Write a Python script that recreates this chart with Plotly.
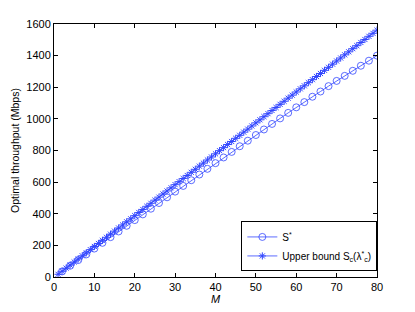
import plotly.graph_objects as go

M_upper = list(range(1, 81))
upper_bound = [17, 36, 56, 75, 95, 114, 134, 153, 173, 193,
               212, 232, 251, 271, 290, 310, 329, 349, 368, 388,
               408, 427, 447, 466, 486, 505, 525, 544, 564, 584,
               603, 623, 642, 662, 681, 701, 720, 740, 759, 779,
               799, 818, 838, 857, 877, 896, 916, 935, 955, 975,
               994, 1014, 1033, 1053, 1072, 1092, 1111, 1131, 1150, 1170,
               1190, 1209, 1229, 1248, 1268, 1287, 1307, 1326, 1346, 1366,
               1385, 1405, 1424, 1444, 1463, 1483, 1502, 1522, 1541, 1561]

M_opt = list(range(2, 81, 2))
s_opt = [35, 71, 107, 143, 180, 216, 252, 288, 324, 360,
         396, 432, 468, 504, 540, 576, 612, 648, 684, 720,
         756, 791, 827, 862, 898, 933, 968, 1003, 1038, 1073,
         1106, 1140, 1173, 1207, 1240, 1272, 1304, 1336, 1368, 1400]

x_ticks = [0, 10, 20, 30, 40, 50, 60, 70, 80]
y_ticks = [0, 200, 400, 600, 800, 1000, 1200, 1400, 1600]

col = "rgb(50,70,255)"
fnt = "Liberation Sans, Arial"

fig = go.Figure()
fig.add_trace(go.Scatter(
    x=M_opt, y=s_opt, mode="lines+markers", name="S<sup>*</sup>",
    line=dict(color=col, width=0.8),
    marker=dict(symbol="circle-open", size=7, color=col, line=dict(width=0.8)),
))
fig.add_trace(go.Scatter(
    x=M_upper, y=upper_bound, mode="lines+markers",
    name="Upper bound S<sub>c</sub>(λ<sup>*</sup><sub>c</sub>)",
    line=dict(color=col, width=0.8),
    marker=dict(symbol="asterisk-open", size=6, color=col, line=dict(width=1, color=col)),
))

axis_common = dict(
    showline=True, linecolor="black", linewidth=1, mirror="ticks",
    ticks="inside", ticklen=4, tickcolor="black", showgrid=False, zeroline=False,
    automargin=False,
    tickfont=dict(family=fnt, size=11, color="black"),
)
fig.update_xaxes(range=[0, 80], tickvals=x_ticks,
                 title=dict(text="<i>M</i>", font=dict(family=fnt, size=11, color="black"), standoff=2),
                 **axis_common)
fig.update_yaxes(range=[0, 1600], tickvals=y_ticks,
                 title=dict(text="Optimal throughput (Mbps)", font=dict(family=fnt, size=10.5, color="black"), standoff=4),
                 **axis_common)

fig.update_layout(
    width=415, height=312,
    margin=dict(l=54, r=38, t=24, b=35, autoexpand=False),
    paper_bgcolor="white", plot_bgcolor="white",
    showlegend=True,
    legend=dict(x=0.58, y=0.022, xanchor="left", yanchor="bottom",
                bgcolor="white", bordercolor="black", borderwidth=1,
                font=dict(family=fnt, size=10, color="black"),
                itemwidth=30, tracegroupgap=0),
)

fig.write_html("out.html", config={"displayModeBar": False},
               post_script="document.body.style.margin='0';")
